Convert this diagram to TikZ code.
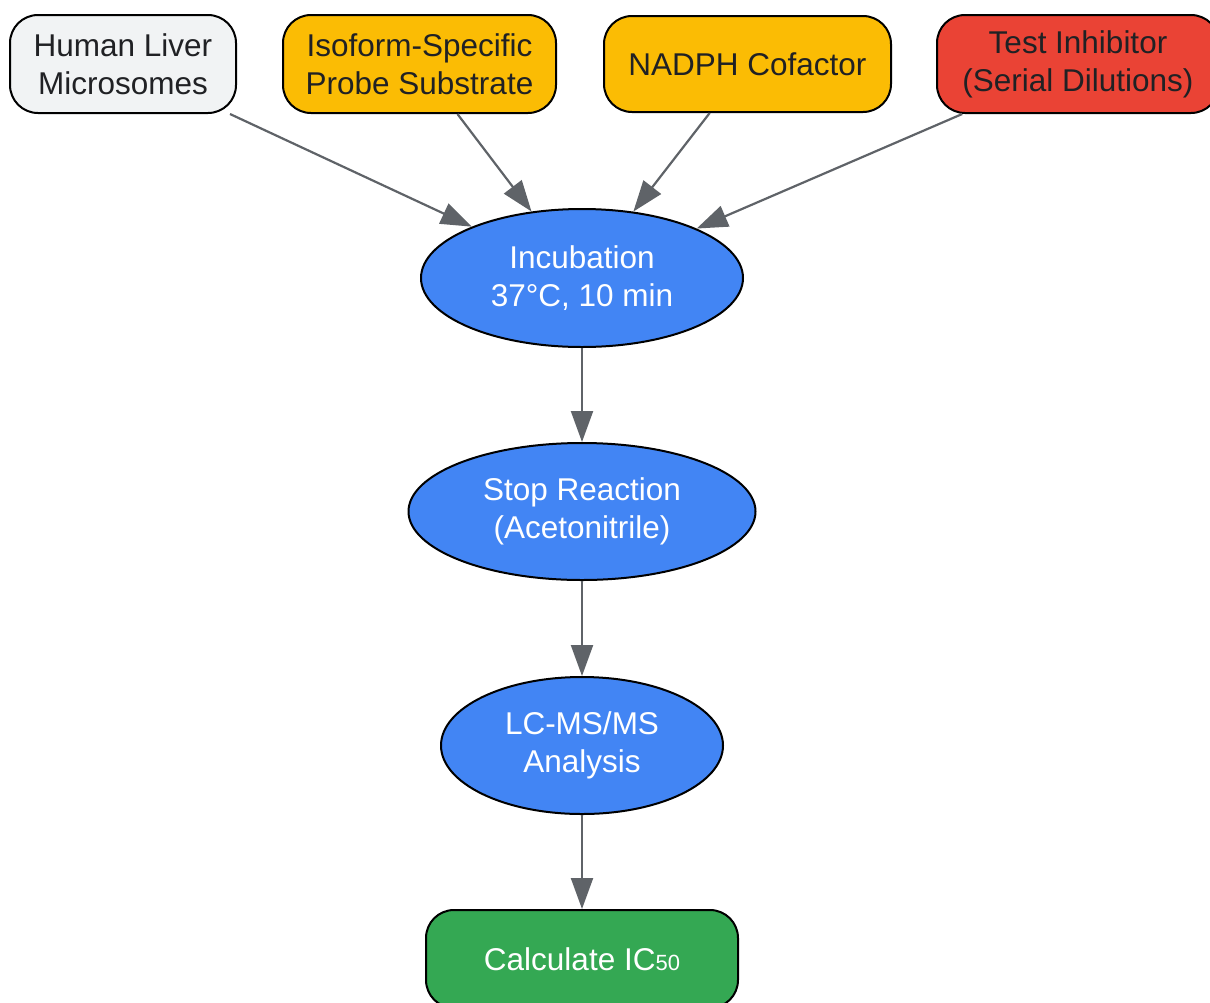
\documentclass[tikz,border=0pt]{standalone}
\usepackage{fontspec}
\setmainfont{Liberation Sans}
\usetikzlibrary{arrows.meta,shapes.geometric}
\definecolor{cgray}{HTML}{F1F3F4}
\definecolor{cyellow}{HTML}{FBBC04}
\definecolor{cred}{HTML}{EA4335}
\definecolor{cblue}{HTML}{4285F4}
\definecolor{cgreen}{HTML}{34A853}
\definecolor{cedge}{HTML}{5F6368}
\definecolor{ctext}{HTML}{202124}
\begin{document}
\begin{tikzpicture}[x=1pt,y=-1pt,
  base/.style={draw=black,line width=2pt,align=center,inner sep=0pt,
    font=\fontsize{31.5}{38}\selectfont},
  srcbox/.style={base,rectangle,rounded corners=28pt,minimum height=98pt,text=ctext},
  proc/.style={base,ellipse,text=white,fill=cblue},
  endbox/.style={base,rectangle,rounded corners=28pt,minimum height=98pt,text=white,fill=cgreen},
  link/.style={draw=cedge,line width=2.2pt,-{Triangle[length=31pt,width=22pt]}}]
\useasboundingbox (0,0) rectangle (1210,1002);
\node[srcbox,fill=cgray,minimum width=226pt] (hlm) at (123,64) {Human Liver\\Microsomes};
\node[srcbox,fill=cyellow,minimum width=273pt] (iso) at (419.5,64) {Isoform-Specific\\Probe Substrate};
\node[srcbox,fill=cyellow,minimum width=287pt,minimum height=96pt] (nad) at (747.5,64) {NADPH Cofactor};
\node[srcbox,fill=cred,minimum width=282pt] (inh) at (1078,64) {Test Inhibitor\\(Serial Dilutions)};
\node[proc,minimum width=322pt,minimum height=138pt] (inc) at (582,278) {Incubation\\37°C, 10 min};
\node[proc,minimum width=347pt,minimum height=137pt] (stop) at (582,511.5) {Stop Reaction\\(Acetonitrile)};
\node[proc,minimum width=282pt,minimum height=137pt] (lc) at (582,745.5) {LC-MS/MS\\Analysis};
\node[endbox,minimum width=312pt] (ic) at (582,959) {Calculate IC{\fontsize{22}{22}\selectfont 50}};
\draw[link] (hlm) -- (inc);
\draw[link] (iso) -- (inc);
\draw[link] (nad) -- (inc);
\draw[link] (inh) -- (inc);
\draw[link] (inc) -- (stop);
\draw[link] (stop) -- (lc);
\draw[link] (lc) -- (ic);
\end{tikzpicture}
\end{document}
